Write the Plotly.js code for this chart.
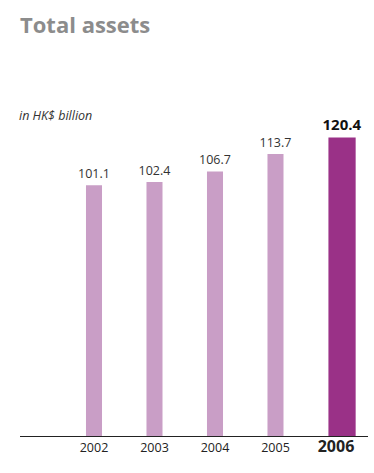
<!DOCTYPE html>
<html><head><meta charset="utf-8">
<script src="https://cdn.plot.ly/plotly-3.0.1.min.js"></script>
<style>html,body{margin:0;padding:0;background:#fff}#chart{width:374px;height:473px}</style>
</head><body><div id="chart"></div>
<script>
const years = [2002, 2003, 2004, 2005, 2006];
const yearLabels = ['2002', '2003', '2004', '2005', '2006'];
const assets = [101.1, 102.4, 106.7, 113.7, 120.4];

const n = years.length;
const last = n - 1;
const colors = years.map((_, i) => i === last ? '#9a3187' : '#c99ec6');
const widths = years.map((_, i) => i === last ? 0.45 : 0.265);
const offsets = years.map((_, i) => i === last ? -0.125 : -0.1325);
const texts = assets.map((v, i) => i === last ? '<b>' + v.toFixed(1) + '</b>' : v.toFixed(1));
const tickText = yearLabels.map((t, i) => i === last ? '<b><span style="font-size:16px">' + t + '</span></b>' : t);

const trace = {
  type: 'bar', x: years, y: assets,
  width: widths, offset: offsets,
  marker: {color: colors},
  text: texts, textposition: 'outside', cliponaxis: false, constraintext: 'none',
  textfont: {family: 'Open Sans, sans-serif', color: years.map((_, i) => i === last ? '#111' : '#333'),
             size: years.map((_, i) => i === last ? 15 : 12.5)},
  hoverinfo: 'none'
};

const layout = {
  width: 374, height: 473,
  margin: {l: 20, r: 6, t: 136, b: 37},
  paper_bgcolor: '#fff', plot_bgcolor: '#fff',
  showlegend: false,
  font: {family: 'Open Sans, sans-serif', color: '#333'},
  xaxis: {range: [2000.777, 2006.529], tickvals: years, ticktext: tickText,
          showline: true, linecolor: '#222', linewidth: 1, showgrid: false, zeroline: false,
          ticks: '', tickfont: {size: 12.5, color: '#222'}, fixedrange: true},
  yaxis: {range: [0, 121], visible: false, showgrid: false, zeroline: false, fixedrange: true},
  annotations: [
    {text: '<b>Total assets</b>', xref: 'paper', yref: 'paper', x: 0, y: 1,
     xshift: -2, yshift: 112, xanchor: 'left', yanchor: 'middle', showarrow: false,
     font: {size: 22, color: '#8c8c8c', family: 'Open Sans, sans-serif'}},
    {text: '<i>in HK$ billion</i>', xref: 'paper', yref: 'paper', x: 0, y: 1,
     xshift: -3, yshift: 21, xanchor: 'left', yanchor: 'middle', showarrow: false,
     font: {size: 12.5, color: '#333', family: 'Open Sans, sans-serif'}}
  ]
};

Plotly.newPlot('chart', [trace], layout, {displayModeBar: false, staticPlot: true});
</script></body></html>
